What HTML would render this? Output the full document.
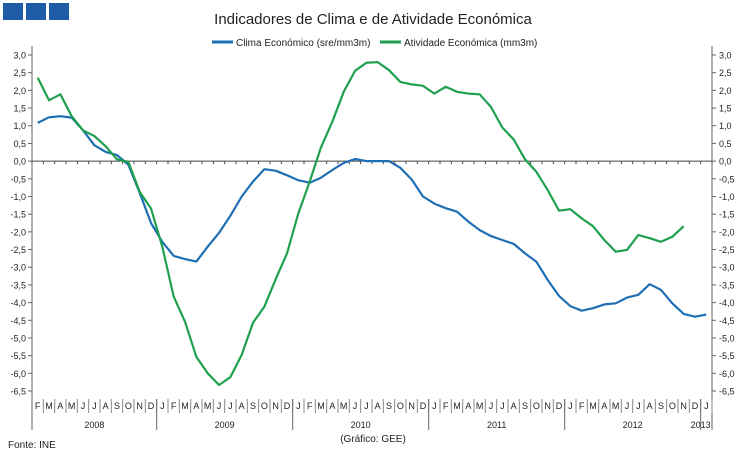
<!DOCTYPE html>
<html><head><meta charset="utf-8"><style>
body{margin:0;background:#fff}
svg{display:block;font-family:"Liberation Sans",sans-serif}
</style></head><body>
<svg id="chart" width="745" height="456">
<rect x="3" y="3" width="20" height="17" fill="#1f5ca8"/>
<rect x="26" y="3" width="20" height="17" fill="#1f5ca8"/>
<rect x="49" y="3" width="20" height="17" fill="#1f5ca8"/>
<text x="373" y="24" font-size="15" text-anchor="middle" fill="#222">Indicadores de Clima e de Atividade Económica</text>
<g>
<line x1="212" y1="42" x2="233" y2="42" stroke="#1f6fb4" stroke-width="3"/>
<text x="236" y="46" font-size="10" fill="#222">Clima Económico (sre/mm3m)</text>
<line x1="380" y1="42" x2="401" y2="42" stroke="#1fa04f" stroke-width="3"/>
<text x="404" y="46" font-size="10" fill="#222">Atividade Económica (mm3m)</text>
</g>
<g id="axes"></g>
<g id="series"></g>
<text x="8" y="448" font-size="10" fill="#222">Fonte: INE</text>
<text x="373" y="442" font-size="10" text-anchor="middle" fill="#222">(Gráfico: GEE)</text>
</svg>
<script>
const months=["F","M","A","M","J","J","A","S","O","N","D","J","F","M","A","M","J","J","A","S","O","N","D","J","F","M","A","M","J","J","A","S","O","N","D","J","F","M","A","M","J","J","A","S","O","N","D","J","F","M","A","M","J","J","A","S","O","N","D","J"];
const years=["2008","2009","2010","2011","2012","2013"];
const yTicks=[3,2.5,2,1.5,1,0.5,0,-0.5,-1,-1.5,-2,-2.5,-3,-3.5,-4,-4.5,-5,-5.5,-6,-6.5];
const clima=[1.08,1.24,1.27,1.23,0.87,0.45,0.26,0.17,-0.1,-0.9,-1.75,-2.28,-2.68,-2.77,-2.84,-2.42,-2.03,-1.55,-1.0,-0.58,-0.23,-0.27,-0.4,-0.54,-0.61,-0.47,-0.25,-0.05,0.06,0.0,0.0,0.0,-0.19,-0.52,-1.0,-1.2,-1.33,-1.43,-1.71,-1.95,-2.12,-2.23,-2.34,-2.61,-2.84,-3.36,-3.81,-4.1,-4.23,-4.16,-4.05,-4.02,-3.86,-3.78,-3.48,-3.64,-4.02,-4.32,-4.4,-4.34];
const atividade=[2.36,1.72,1.89,1.27,0.87,0.71,0.42,0.05,-0.02,-0.87,-1.34,-2.42,-3.83,-4.54,-5.53,-6.0,-6.33,-6.11,-5.48,-4.57,-4.12,-3.34,-2.61,-1.48,-0.58,0.39,1.11,1.96,2.55,2.78,2.8,2.57,2.24,2.17,2.13,1.91,2.1,1.96,1.91,1.89,1.53,0.95,0.61,0.05,-0.3,-0.82,-1.4,-1.36,-1.62,-1.84,-2.23,-2.56,-2.51,-2.09,-2.18,-2.28,-2.14,-1.84];
const X0=32,X1=712,Y0=55,YS=35.37;
const n=months.length,cw=(X1-X0)/n;
const xAt=i=>X0+cw*(i+0.5);
const yAt=v=>Y0+(3-v)*YS;
const NS="http://www.w3.org/2000/svg";
const ax=document.getElementById('axes'),se=document.getElementById('series');
function mk(p,tag,a){const e=document.createElementNS(NS,tag);for(const k in a)e.setAttribute(k,a[k]);p.appendChild(e);return e;}
let l=mk(ax,'line',{x1:X0,y1:46,x2:X0,y2:430,stroke:'#666'});


l=mk(ax,'line',{x1:X1,y1:46,x2:X1,y2:430,stroke:'#666'});


l=mk(ax,'line',{x1:X0,y1:yAt(0),x2:X1,y2:yAt(0),stroke:'#444'});


yTicks.forEach(v=>{const y=yAt(v);
 mk(ax,'line',{x1:X0-4,y1:y,x2:X0,y2:y,stroke:'#666'});
 mk(ax,'line',{x1:X1,y1:y,x2:X1+4,y2:y,stroke:'#666'});
 const s=v.toFixed(1).replace('.',',');
 let t=mk(ax,'text',{x:X0-6,y:y+3.5,'font-size':9,'text-anchor':'end',fill:'#222'});t.textContent=s;
 
 
 t=mk(ax,'text',{x:X1+7,y:y+3.5,'font-size':9,fill:'#222'});t.textContent=s;
 
 
});
for(let i=0;i<=n;i++){const x=X0+cw*i;mk(ax,'line',{x1:x,y1:yAt(0),x2:x,y2:yAt(0)+3,stroke:'#444'});}
months.forEach((m,i)=>{
 const t=mk(ax,'text',{x:xAt(i),y:409,'font-size':9,'text-anchor':'middle',fill:'#222'});t.textContent=m;
 
 
 mk(ax,'line',{x1:X0+cw*(i+1),y1:399,x2:X0+cw*(i+1),y2:413,stroke:'#888'});
});
years.forEach((y,k)=>{
 const s=k===0?0:11+12*(k-1), e=Math.min(n,11+12*k);
 const xs=X0+cw*s,xe=X0+cw*e;
 mk(ax,'line',{x1:xs,y1:399,x2:xs,y2:430,stroke:'#666'});
 const t=mk(ax,'text',{x:k===5?xs:(xs+xe)/2,y:428,'font-size':9,'text-anchor':'middle',fill:'#222'});t.textContent=y;
 
 
});
function line(data,color,name){
 const d=data.map((v,i)=>(i?'L':'M')+xAt(i).toFixed(1)+' '+yAt(v).toFixed(1)).join(' ');
 const p=mk(se,'path',{d:d,fill:'none',stroke:color,'stroke-width':2.2,'stroke-linejoin':'round'});
 
 
}
line(clima,'#1f6fb4','clima-line');
line(atividade,'#1fa04f','atividade-line');
</script>
</body></html>
